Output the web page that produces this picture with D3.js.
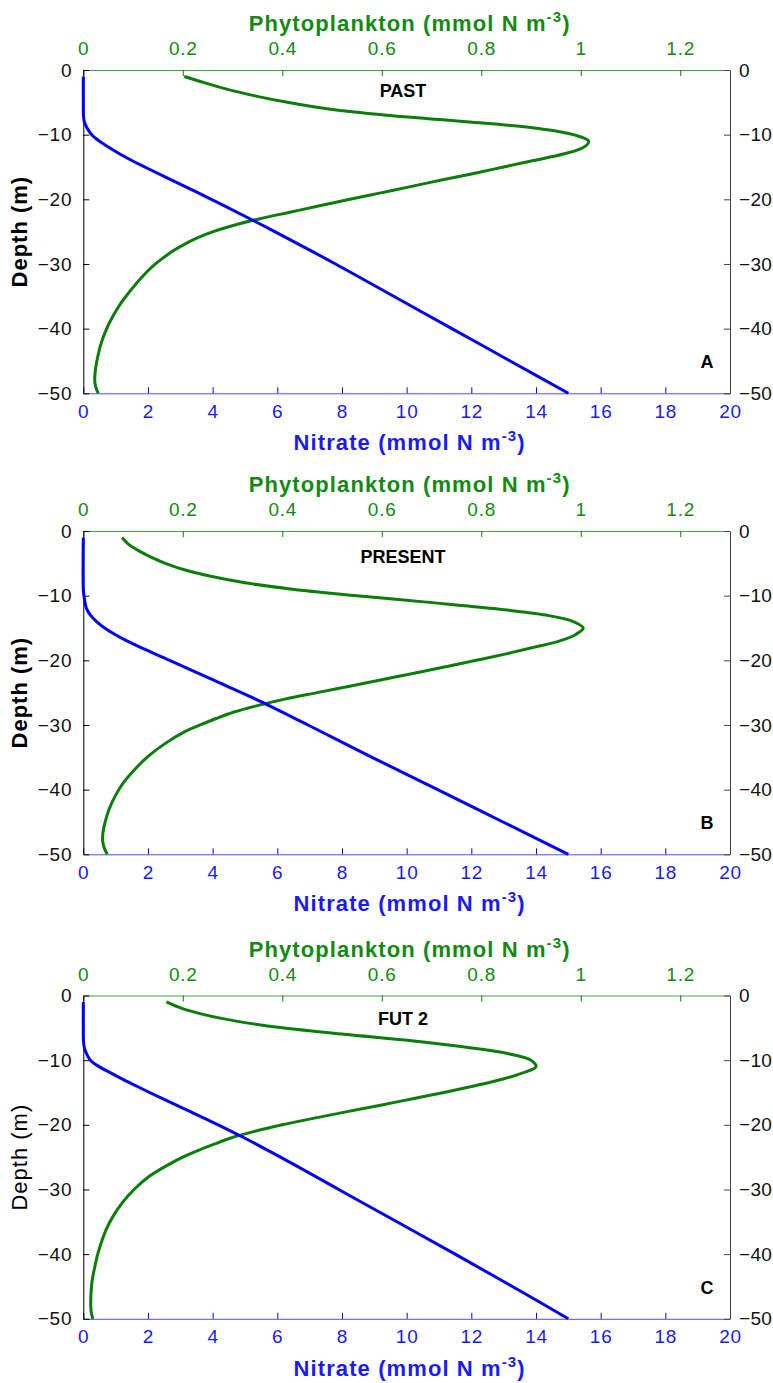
<!DOCTYPE html>
<html><head><meta charset="utf-8">
<script src="https://cdn.jsdelivr.net/npm/d3@7/dist/d3.min.js"></script>
<style>
body{margin:0;background:#fff}
text{font-family:"Liberation Sans",Arial,Helvetica,sans-serif}
</style>
</head><body>
<svg id="chart" width="773" height="1383"></svg>
<script>
// ---------- data ----------
const depthTicks = [0, -10, -20, -30, -40, -50];
const nitrateTicks = [0, 2, 4, 6, 8, 10, 12, 14, 16, 18, 20];
const phytoTicks = [0, 0.2, 0.4, 0.6, 0.8, 1.0, 1.2];

const panelNames = ["PAST", "PRESENT", "FUT 2"];
const panelLetters = ["A", "B", "C"];

// Panel A (PAST)
const phytoDepthA = [1,2,3,4,5,6,7,8,9,10,11,12,13,14,15,16,17,18,19,20,21,22,23,24,25,26,27,28,30,32,34,36,38,40,42,44,46,48,49,50];
const phytoA      = [0.203,0.245,0.29,0.345,0.41,0.49,0.61,0.77,0.91,0.985,1.016,1.005,0.965,0.905,0.845,0.785,0.72,0.66,0.598,0.536,0.475,0.415,0.355,0.303,0.261,0.228,0.202,0.18,0.145,0.118,0.096,0.076,0.06,0.047,0.037,0.03,0.025,0.023,0.025,0.03];
const nitDepthA   = [1,5,7,8,9,10,11,12,13,14,15,17,20,23,25,30,35,40,45,50];
const nitrateA    = [0,0,0.005,0.03,0.12,0.26,0.5,0.8,1.13,1.5,1.9,2.72,3.96,5.15,5.92,7.8,9.6,11.4,13.2,15];

// Panel B (PRESENT)
const phytoDepthB = [1,2,3,4,5,6,7,8,9,10,11,12,13,14,15,16,17,18,19,20,21,22,23,24,25,26,27,28,29,30,31,33,35,37,39,41,43,45,46,47,48,49,50];
const phytoB      = [0.078,0.09,0.11,0.135,0.165,0.203,0.256,0.325,0.42,0.55,0.69,0.825,0.93,0.985,1.005,0.99,0.958,0.905,0.85,0.79,0.728,0.665,0.60,0.535,0.47,0.405,0.35,0.303,0.267,0.235,0.205,0.162,0.128,0.102,0.08,0.064,0.052,0.044,0.041,0.039,0.039,0.042,0.048];
const nitDepthB   = [1,9,10,11,12,13,14,15,16,17,18,20,23,26,30,35,40,45,50];
const nitrateB    = [0,0,0.02,0.05,0.1,0.22,0.41,0.66,0.98,1.35,1.77,2.67,4.0,5.33,6.95,8.93,10.96,12.98,15];

// Panel C (FUT 2)
const phytoDepthC = [1,2,3,4,5,6,7,8,9,10,11,12,13,14,15,16,17,18,19,20,21,22,23,24,25,26,28,30,32,34,36,38,40,42,44,46,48,49,50];
const phytoC      = [0.167,0.198,0.245,0.31,0.40,0.525,0.66,0.77,0.855,0.90,0.91,0.882,0.84,0.785,0.725,0.66,0.595,0.528,0.462,0.40,0.345,0.298,0.263,0.23,0.20,0.175,0.132,0.102,0.079,0.061,0.047,0.037,0.029,0.023,0.018,0.0155,0.015,0.016,0.019];
const nitDepthC   = [1,6,7,8,9,10,11,12,13,14,15,16,18,20,22,25,30,35,40,45,50];
const nitrateC    = [0,0,0.005,0.03,0.1,0.22,0.49,0.86,1.24,1.64,2.05,2.47,3.33,4.17,4.97,6.1,7.9,9.7,11.5,13.27,15];

const phytoDepths = [phytoDepthA, phytoDepthB, phytoDepthC];
const phytoSeries = [phytoA, phytoB, phytoC];
const nitDepths = [nitDepthA, nitDepthB, nitDepthC];
const nitSeries = [nitrateA, nitrateB, nitrateC];

// ---------- layout ----------
const svg = d3.select("#chart");
const left = 83.3, right = 730, plotH = 323.3;
const panelTops = [70, 531, 995.5];
const nameOffsets = [26.7, 31.7, 29.3];
const depthBold = [true, true, false];

const GREEN = "#0a7d0a", GREEN_TXT = "#128a12", GREEN_AX = "#45a045";
const BLUE = "#0000ff", BLUE_TXT = "#1a1aff", BLUE_AX = "#4d4dff";
const FONT_TICK = 19, FONT_TITLE = 22;

const xN = d3.scaleLinear().domain([0, 20]).range([left, right]);
const xP = d3.scaleLinear().domain([0, 1.3]).range([left, right]);

function addSupTitle(g, x, y, base, color, weight) {
  const t = g.append("text").attr("x", x).attr("y", y).attr("text-anchor", "middle")
    .attr("fill", color).attr("font-weight", weight).attr("font-size", FONT_TITLE)
    .attr("letter-spacing", "1.1px");
  t.append("tspan").text(base + " (mmol N m");
  t.append("tspan").attr("font-size", 15).attr("dy", -9).text("-3");
  t.append("tspan").attr("dy", 9).text(")");
}

function styleTicks(sel, color, spacing) {
  sel.selectAll("text").attr("fill", color).attr("font-size", FONT_TICK).attr("letter-spacing", spacing)
     .attr("font-family", "Liberation Sans, Arial, sans-serif");
}

panelTops.forEach((top, i) => {
  const y = d3.scaleLinear().domain([-50, 0]).range([top + plotH, top]);
  const g = svg.append("g");

  // axes
  const axT = g.append("g").attr("transform", `translate(0,${top})`)
    .call(d3.axisTop(xP).tickValues(phytoTicks).tickFormat(d3.format("~g")).tickSizeInner(-6).tickSizeOuter(0).tickPadding(15));
  axT.select(".domain").attr("stroke", GREEN_AX);
  axT.selectAll(".tick line").attr("stroke", GREEN);
  styleTicks(axT, GREEN_TXT, "0.8px");

  const axB = g.append("g").attr("transform", `translate(0,${top + plotH})`)
    .call(d3.axisBottom(xN).tickValues(nitrateTicks).tickSizeInner(-6).tickSizeOuter(0).tickPadding(11));
  axB.select(".domain").attr("stroke", BLUE_AX);
  axB.selectAll(".tick line").attr("stroke", BLUE);
  styleTicks(axB, BLUE_TXT, "0.8px");

  const axL = g.append("g").attr("transform", `translate(${left},0)`)
    .call(d3.axisLeft(y).tickValues(depthTicks).tickSizeInner(-6).tickSizeOuter(0).tickPadding(11));
  axL.select(".domain").attr("stroke", "#000");
  axL.selectAll(".tick line").attr("stroke", "#000");
  styleTicks(axL, "#111", "0.8px");

  const axR = g.append("g").attr("transform", `translate(${right},0)`)
    .call(d3.axisRight(y).tickValues(depthTicks).tickSizeInner(-6).tickSizeOuter(0).tickPadding(9));
  axR.select(".domain").attr("stroke", "#444");
  axR.selectAll(".tick line").attr("stroke", "#444");
  styleTicks(axR, "#111", "0.3px");

  // curves
  const pData = phytoDepths[i].map((d, k) => ({d, v: phytoSeries[i][k]}));
  const nData = nitDepths[i].map((d, k) => ({d, v: nitSeries[i][k]}));

  g.append("path").datum(pData)
    .attr("fill", "none").attr("stroke", GREEN).attr("stroke-width", 3).attr("stroke-linejoin", "round")
    .attr("d", d3.line().x(p => xP(p.v)).y(p => y(-p.d)).curve(d3.curveCatmullRom.alpha(0.5)));
  g.append("path").datum(nData)
    .attr("fill", "none").attr("stroke", BLUE).attr("stroke-width", 3).attr("stroke-linejoin", "round")
    .attr("d", d3.line().x(p => xN(p.v)).y(p => y(-p.d)).curve(d3.curveCatmullRom.alpha(0.5)));

  // titles
  addSupTitle(g, (left + right) / 2 + 3, top - 39, "Phytoplankton", GREEN_TXT, "bold");
  addSupTitle(g, (left + right) / 2 + 3, top + plotH + 57, "Nitrate", BLUE_TXT, "bold");

  g.append("text")
    .attr("transform", `translate(27,${top + plotH / 2}) rotate(-90)`)
    .attr("text-anchor", "middle").attr("font-size", FONT_TITLE)
    .attr("font-weight", depthBold[i] ? "bold" : "normal")
    .attr("letter-spacing", "1px")
    .attr("fill", "#000").text("Depth (m)");

  g.append("text").attr("x", 403).attr("y", top + nameOffsets[i])
    .attr("text-anchor", "middle").attr("font-size", 18).attr("font-weight", "bold").attr("fill", "#000")
    .text(panelNames[i]);

  g.append("text").attr("x", 707).attr("y", top + 298)
    .attr("text-anchor", "middle").attr("font-size", 18).attr("font-weight", "bold").attr("fill", "#000")
    .text(panelLetters[i]);
});
</script>
</body></html>
